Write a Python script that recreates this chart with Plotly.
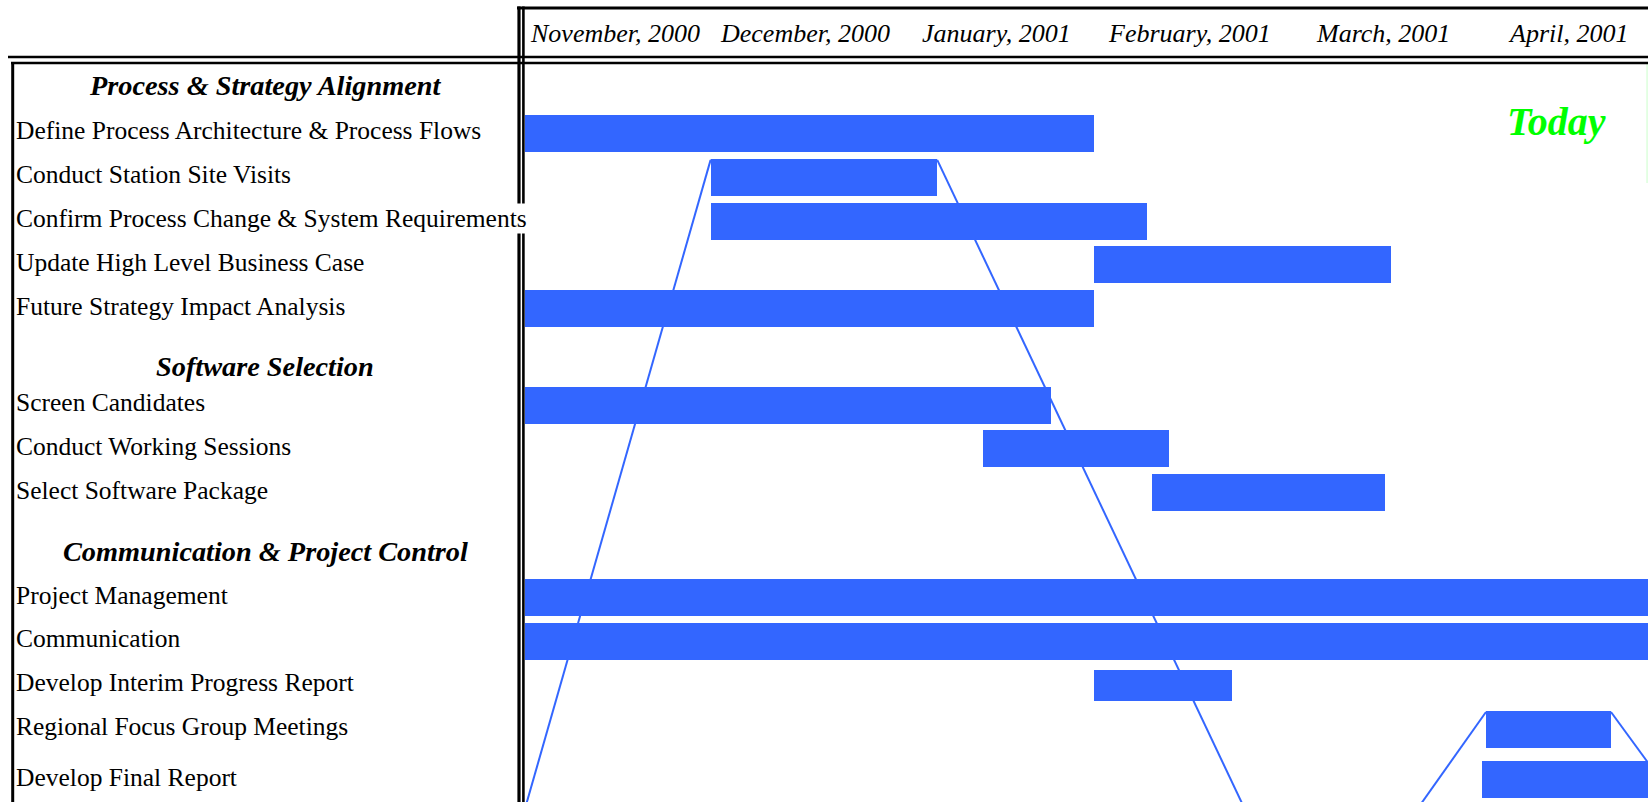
import plotly.graph_objects as go
import pandas as pd

# ---------------- data ----------------
sections = ["Process & Strategy Alignment", "Software Selection", "Communication & Project Control"]
tasks = [
    "Define Process Architecture & Process Flows",
    "Conduct Station Site Visits",
    "Confirm Process Change & System Requirements",
    "Update High Level Business Case",
    "Future Strategy Impact Analysis",
    "Screen Candidates",
    "Conduct Working Sessions",
    "Select Software Package",
    "Project Management",
    "Communication",
    "Develop Interim Progress Report",
    "Regional Focus Group Meetings",
    "Develop Final Report",
]
task_section = [0, 0, 0, 0, 0, 1, 1, 1, 2, 2, 2, 2, 2]
task_start = [
    "2000-11-01", "2000-12-01", "2000-12-01", "2001-02-01", "2000-11-01",
    "2000-11-01", "2001-01-14", "2001-02-10 10:00",
    "2000-11-01", "2000-11-01", "2001-02-01", "2001-04-05 09:00", "2001-04-04 18:00",
]
task_finish = [
    "2001-02-01", "2001-01-06 16:00", "2001-02-09 14:00", "2001-03-21", "2001-02-01",
    "2001-01-25", "2001-02-13 02:00", "2001-03-20",
    "2001-06-30", "2001-06-30", "2001-02-23 07:00", "2001-04-25 14:00", "2001-06-30",
]
month_labels = ["November, 2000", "December, 2000", "January, 2001",
                "February, 2001", "March, 2001", "April, 2001"]
month_label_dates = ["2000-11-15 14:00", "2000-12-16 08:00", "2001-01-16 05:00",
                     "2001-02-16 12:00", "2001-03-19 17:00", "2001-04-18 14:00"]
# progress ("Today") line vertices: (date, task index it touches / off-chart)
progress_dates = ["2000-10-31 12:00", "2000-12-01", "2001-01-06 16:00", "2001-02-26 04:00",
                  "2001-03-24 02:00", "2001-04-05 09:00", "2001-04-25 14:00", "2001-05-08 07:00"]
progress_task = [None, 1, 1, None, None, 11, 11, None]
today = "2001-05-01 10:00"

# ---------------- layout helpers ----------------
W, H = 1648, 802
BLUE = "#3366FF"
FONT = "Liberation Serif"
section_gap = [0.0, 1.2, 1.4]
header_offset = [1.1, 0.88, 1.05]
extra_before = {12: 0.16}
BAR_W = 0.845
bar_widths = [BAR_W] * len(tasks)
bar_widths[10] = 0.72

row_y = []
pos = 0.0
prev_sec = 0
for i, s in enumerate(task_section):
    if i > 0:
        pos += 1.0 + extra_before.get(i, 0.0)
        if s != prev_sec:
            pos += section_gap[s]
    row_y.append(pos)
    prev_sec = s
section_y = [row_y[task_section.index(k)] - header_offset[k] for k in range(len(sections))]

ROW_PX, FIRST_PX = 43.8, 133.5
y_top = -FIRST_PX / ROW_PX
y_bot = (H - FIRST_PX) / ROW_PX
OFF = row_y[-1] + 0.9  # below visible area

starts = pd.to_datetime(task_start, format="mixed")
finishes = pd.to_datetime(task_finish, format="mixed")
dur_ms = [(f - s).total_seconds() * 1000 for s, f in zip(starts, finishes)]

x0 = pd.Timestamp("2000-11-01")
x1 = x0 + pd.Timedelta(days=(W - 525) / 6.185)

fig = go.Figure()
fig.add_trace(go.Bar(
    y=row_y, x=dur_ms, base=task_start, orientation="h",
    width=bar_widths, marker=dict(color=BLUE, line=dict(width=0)),
    hoverinfo="skip", showlegend=False,
))

shapes = []
# progress line (beneath bars)
py = []
for t in progress_task:
    py.append(OFF if t is None else row_y[t] - BAR_W / 2 + 0.03)
for i in range(len(progress_dates) - 1):
    shapes.append(dict(type="line", xref="x", yref="y", layer="below",
                       x0=progress_dates[i], y0=py[i], x1=progress_dates[i + 1], y1=py[i + 1],
                       line=dict(color=BLUE, width=2)))
# today marker (faint, at right edge)
shapes.append(dict(type="line", xref="x", yref="paper", layer="below",
                   x0=today, x1=today, y0=1 - 183 / H, y1=1 - 63 / H,
                   opacity=0.2, line=dict(color="#00FF00", width=1)))


def px_x(v):
    return v / W


def px_y(v):
    return 1 - v / H


def hline(y, xa, xb, w):
    shapes.append(dict(type="line", xref="paper", yref="paper",
                       x0=px_x(xa), x1=px_x(xb), y0=px_y(y), y1=px_y(y),
                       line=dict(color="black", width=w)))


def vline(x, ya, yb, w):
    shapes.append(dict(type="line", xref="paper", yref="paper",
                       x0=px_x(x), x1=px_x(x), y0=px_y(ya), y1=px_y(yb),
                       line=dict(color="black", width=w)))


hline(8, 517, W, 3)
hline(57, 8, W, 2.5)
hline(63, 11, W, 2.5)
vline(12.7, 62, H, 3)
vline(519, 6.5, H, 3.2)
vline(523.4, 6.5, H, 2.6)

annotations = []
for lab, d in zip(month_labels, month_label_dates):
    annotations.append(dict(x=d, xref="x", y=px_y(33), yref="paper", text="<i>%s</i>" % lab,
                            showarrow=False, xanchor="center", yanchor="middle",
                            font=dict(family=FONT, size=26, color="black")))
for lab, y in zip(sections, section_y):
    annotations.append(dict(x=px_x(265), xref="paper", y=y, yref="y", text="<b><i>%s</i></b>" % lab,
                            showarrow=False, xanchor="center", yanchor="middle",
                            font=dict(family=FONT, size=28.3, color="black")))
for lab, y in zip(tasks, row_y):
    annotations.append(dict(x=px_x(14.5), xref="paper", y=y - 0.06, yref="y", text=lab,
                            showarrow=False, xanchor="left", yanchor="middle",
                            bgcolor="white", borderpad=0,
                            font=dict(family=FONT, size=25.5, color="black")))
annotations.append(dict(x=px_x(1556), xref="paper", y=px_y(122), yref="paper",
                        text="<b><i>Today</i></b>", showarrow=False,
                        xanchor="center", yanchor="middle",
                        font=dict(family=FONT, size=40, color="#00FF00")))

fig.update_layout(
    width=W, height=H, margin=dict(l=0, r=0, t=0, b=0, pad=0),
    paper_bgcolor="white", plot_bgcolor="white",
    xaxis=dict(type="date", range=[x0, x1], domain=[525 / W, 1],
               showgrid=False, zeroline=False, showticklabels=False, ticks="", showline=False),
    yaxis=dict(range=[y_bot, y_top], autorange=False, domain=[0, 1],
               showgrid=False, zeroline=False, showticklabels=False, ticks="", showline=False),
    shapes=shapes, annotations=annotations, showlegend=False, bargap=0,
)

fig.write_html("out.html", config={"displayModeBar": False})
